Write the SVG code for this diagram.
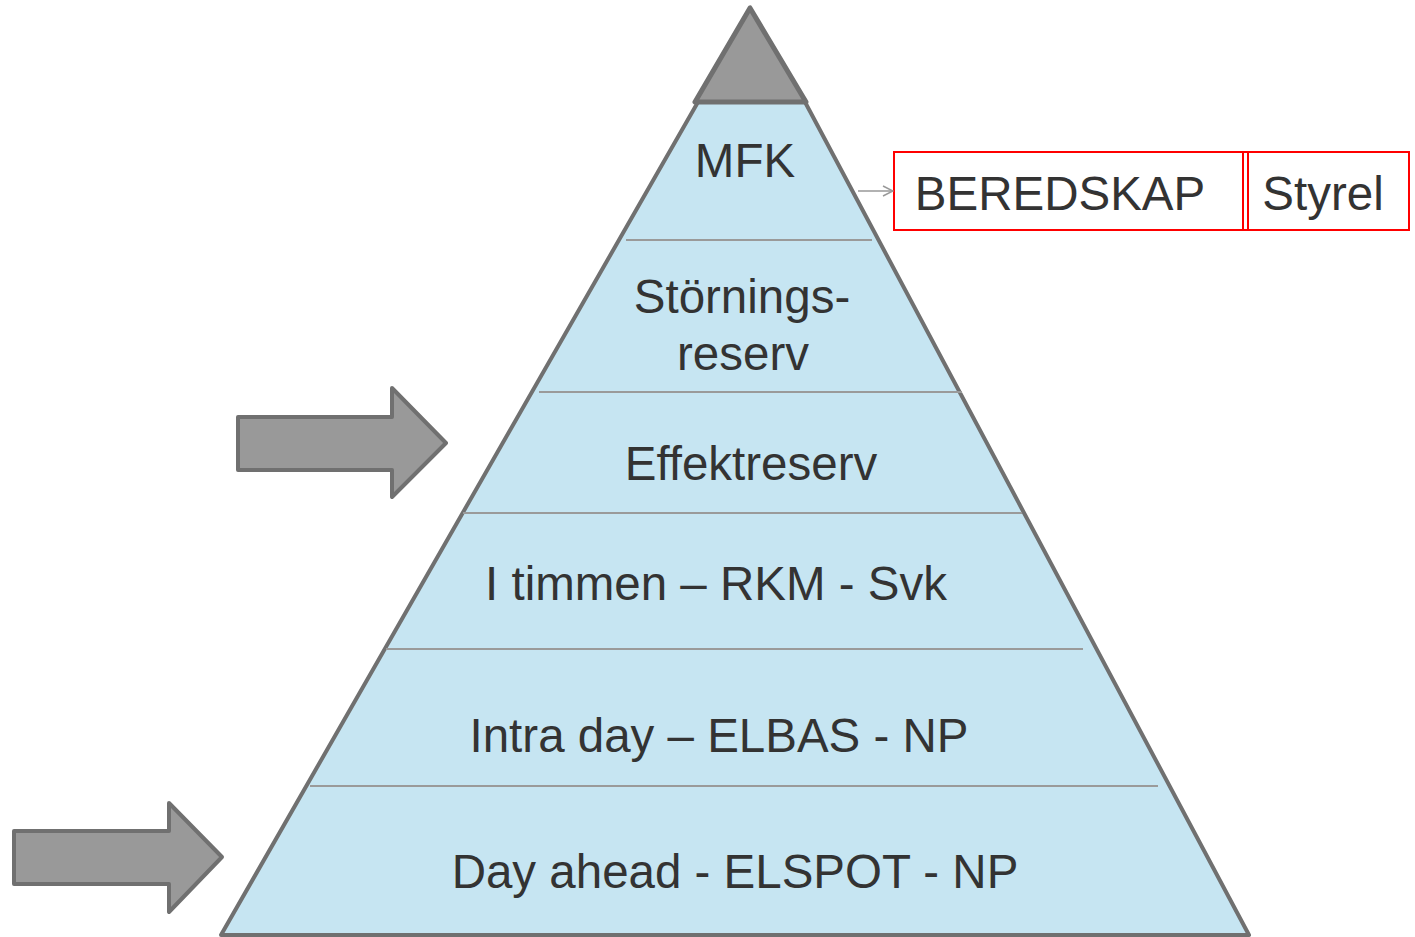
<svg xmlns="http://www.w3.org/2000/svg" width="1415" height="937" viewBox="0 0 1415 937">
<style>
.t{font-family:"Liberation Sans",Arial,sans-serif;font-size:47.5px;fill:#333333;text-anchor:middle}
.sep{stroke:#9a9a9a;stroke-width:2;fill:none}
.gray{fill:#999999;stroke:#707070;stroke-width:4;stroke-linejoin:round}
.box{fill:#ffffff;stroke:#ff0000;stroke-width:2}
</style>
<defs>
<marker id="open" viewBox="0 0 12 12" refX="11" refY="6" markerWidth="12" markerHeight="12" markerUnits="userSpaceOnUse" orient="auto">
<path d="M1,1 L11,6 L1,11" fill="none" stroke="#999999" stroke-width="1.5"/>
</marker>
</defs>
<rect width="1415" height="937" fill="#ffffff"/>
<g id="pyramid">
<polygon points="698,102 805,102 1249,935 221,935" fill="#c6e5f2" stroke="#707070" stroke-width="4" stroke-linejoin="round"/>
<line class="sep" x1="626" y1="240" x2="872" y2="240"/>
<line class="sep" x1="539" y1="392" x2="962" y2="392"/>
<line class="sep" x1="463" y1="513" x2="1022" y2="513"/>
<line class="sep" x1="386" y1="649" x2="1083" y2="649"/>
<line class="sep" x1="310" y1="786" x2="1158" y2="786"/>
<polygon points="750,8 695,102 806,102" fill="#999999" stroke="#707070" stroke-width="5" stroke-linejoin="round"/>
</g>
<g id="level-mfk"><text class="t" x="745" y="177">MFK</text></g>
<g id="level-storning"><text class="t" x="742" y="313">Störnings-</text><text class="t" x="743" y="370">reserv</text></g>
<g id="level-effekt"><text class="t" x="751" y="480">Effektreserv</text></g>
<g id="level-itimmen"><text class="t" x="716" y="600">I timmen – RKM - Svk</text></g>
<g id="level-intraday"><text class="t" x="719" y="752">Intra day – ELBAS - NP</text></g>
<g id="level-dayahead"><text class="t" x="735" y="888">Day ahead - ELSPOT - NP</text></g>
<g id="arrow-effekt"><polygon class="gray" points="238,417 392,417 392,388 446,443 392,497 392,470 238,470"/></g>
<g id="arrow-dayahead"><polygon class="gray" points="14,831 169,831 169,803 222,857 169,912 169,884 14,884"/></g>
<g id="beredskap"><rect class="box" x="894" y="152" width="349" height="78"/><rect class="box" x="1243" y="152" width="5" height="78"/><text class="t" x="1060" y="210">BEREDSKAP</text></g>
<g id="styrel"><rect class="box" x="1248" y="152" width="161" height="78"/><text class="t" x="1323" y="210">Styrel</text></g>
<g id="connectors"><line x1="858" y1="191" x2="893" y2="191" stroke="#999999" stroke-width="1.5" marker-end="url(#open)"/></g>
</svg>
